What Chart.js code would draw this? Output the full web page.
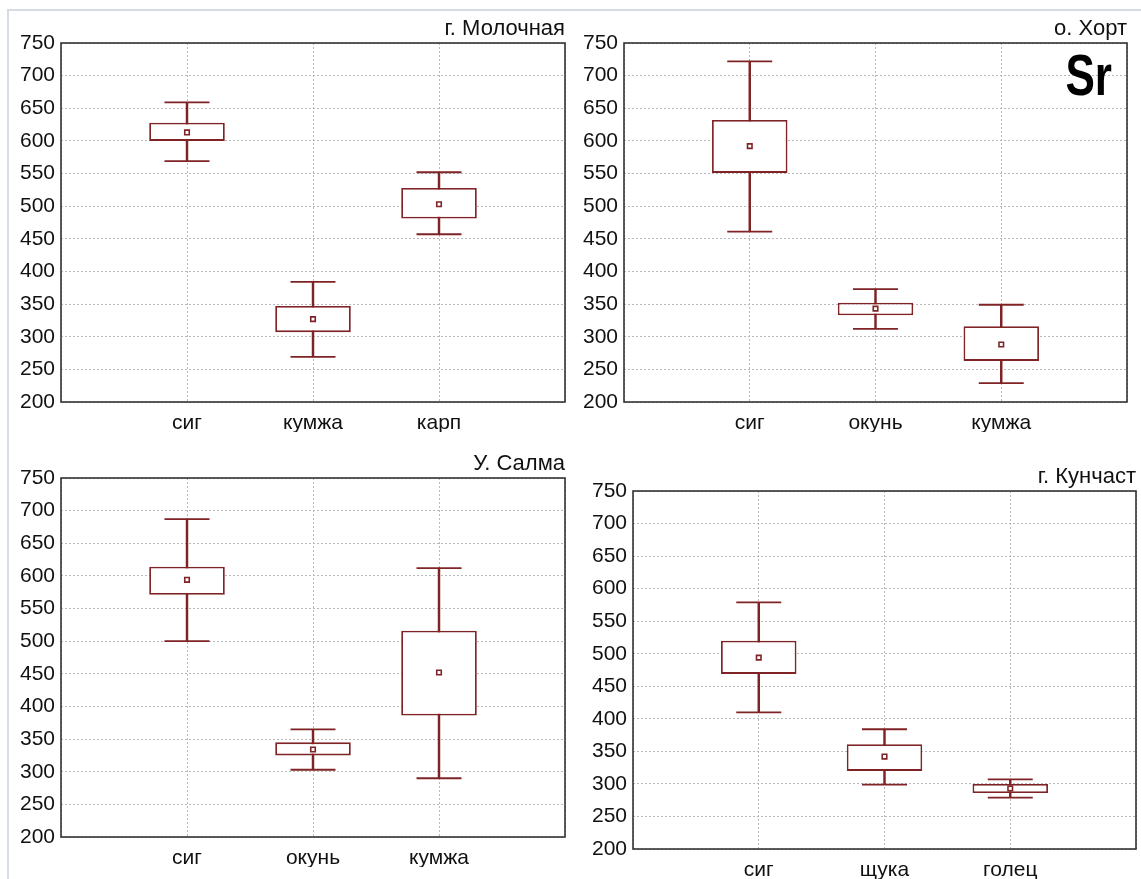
<!DOCTYPE html>
<html>
<head>
<meta charset="utf-8">
<script src="https://cdn.jsdelivr.net/npm/chart.js@4.4.1/dist/chart.umd.min.js"></script>
<style>
    html, body { margin: 0; padding: 0; background: #fff; overflow: hidden; }
    body { width: 1141px; height: 879px; position: relative; }
    .frame-line { position: absolute; left: 7px; top: 9px; right: 0; bottom: 0; border-top: 2px solid #d6dce6; border-left: 2px solid #d6dce6; }
    .panel { position: absolute; }
</style>
</head>
<body>
<div class="frame-line"></div>
<div class="panel" id="wrap1"><canvas id="chart1"></canvas></div>
<div class="panel" id="wrap2"><canvas id="chart2"></canvas></div>
<div class="panel" id="wrap3"><canvas id="chart3"></canvas></div>
<div class="panel" id="wrap4"><canvas id="chart4"></canvas></div>
<script>
// =========================================================
// 1. Datos (mín, Q1, Q3, máx, media)
// =========================================================
const yTicksMin = 200;
const yTicksMax = 750;
const yTicksStep = 50;

// г. Молочная
const molCats = ['сиг', 'кумжа', 'карп'];
const molMin  = [569, 269, 457];
const molQ1   = [600, 307, 481];
const molQ3   = [628, 347, 528];
const molMax  = [659, 384, 552];
const molMean = [613, 327, 503];

// о. Хорт
const horCats = ['сиг', 'окунь', 'кумжа'];
const horMin  = [461, 312, 229];
const horQ1   = [551, 333, 263];
const horQ3   = [632, 352, 316];
const horMax  = [722, 373, 349];
const horMean = [592, 343, 288];

// У. Салма
const salCats = ['сиг', 'окунь', 'кумжа'];
const salMin  = [500, 303, 290];
const salQ1   = [571, 325, 386];
const salQ3   = [614, 345, 516];
const salMax  = [687, 365, 612];
const salMean = [594, 334, 452];

// г. Кунчаст
const kunCats = ['сиг', 'щука', 'голец'];
const kunMin  = [410, 299, 279];
const kunQ1   = [469, 320, 286];
const kunQ3   = [520, 361, 300];
const kunMax  = [579, 384, 307];
const kunMean = [494, 342, 293];

// =========================================================
// 2. Estilos
// =========================================================
const BOX_COLOR = '#7f2326';
const FONT = '"Liberation Sans", Arial, sans-serif';
const Y_AXIS_W = 55;
const X_AXIS_H = 30;
const TITLE_H = 43;

// Marco del área de trazado
const framePlugin = {
    id: 'frame',
    afterDraw(chart) {
        const a = chart.chartArea;
        const ctx = chart.ctx;
        ctx.save();
        ctx.strokeStyle = '#333';
        ctx.lineWidth = 1.6;
        ctx.strokeRect(a.left, a.top, a.right - a.left, a.bottom - a.top);
        ctx.restore();
    }
};

// Etiqueta "Sr" (solo panel о. Хорт)
const elementLabelPlugin = {
    id: 'elementLabel',
    afterDraw(chart, args, opts) {
        if (!opts || !opts.text) return;
        const a = chart.chartArea;
        const ctx = chart.ctx;
        ctx.save();
        ctx.translate(a.right - 15, a.top + 52);
        ctx.scale(0.76, 1);
        ctx.font = '700 58px ' + FONT;
        ctx.fillStyle = '#000';
        ctx.textAlign = 'right';
        ctx.textBaseline = 'alphabetic';
        ctx.fillText(opts.text, 0, 0);
        ctx.restore();
    }
};

// Rellena con huecos a los lados para que las cajas queden en 1/4, 2/4, 3/4
const pad = (arr) => [null, ...arr, null];

// =========================================================
// 3. Construcción de cada panel
// =========================================================
function renderBoxPanel(id, area, title, cats, mins, q1, q3, maxs, means, label) {
    const wrap = document.getElementById('wrap' + id);
    const w = area.R - area.L + Y_AXIS_W + 1;
    const h = area.B - area.T + TITLE_H + X_AXIS_H;
    wrap.style.left = (area.L - Y_AXIS_W) + 'px';
    wrap.style.top = (area.T - TITLE_H) + 'px';
    wrap.style.width = w + 'px';
    wrap.style.height = h + 'px';

    const whiskers = mins.map((v, i) => [v, maxs[i]]);
    const boxes = q1.map((v, i) => [v, q3[i]]);

    const capStyle = {
        type: 'line', showLine: false, pointStyle: 'line', pointRadius: 22.5,
        pointBorderColor: BOX_COLOR, pointBorderWidth: 1.8, pointHoverRadius: 22.5
    };

    new Chart(document.getElementById('chart' + id), {
        type: 'bar',
        data: {
            labels: pad(cats).map(c => c || ''),
            datasets: [
                { label: 'whisker', data: pad(whiskers), backgroundColor: BOX_COLOR, barThickness: 1.8, grouped: false, order: 3 },
                { label: 'box', data: pad(boxes), backgroundColor: '#fff', borderColor: BOX_COLOR, borderWidth: 1.8,
                  borderSkipped: false, grouped: false, categoryPercentage: 1, barPercentage: 0.6, order: 2 },
                Object.assign({ label: 'max', data: pad(maxs), order: 1 }, capStyle),
                Object.assign({ label: 'min', data: pad(mins), order: 1 }, capStyle),
                { type: 'line', label: 'mean', data: pad(means), showLine: false, pointStyle: 'rect', pointRadius: 3.2,
                  pointBackgroundColor: '#fff', pointBorderColor: BOX_COLOR, pointBorderWidth: 1.6, order: 0 }
            ]
        },
        options: {
            responsive: true,
            maintainAspectRatio: false,
            animation: false,
            events: [],
            layout: { autoPadding: false, padding: { left: 0, right: 1, top: 0, bottom: 0 } },
            plugins: {
                legend: { display: false },
                tooltip: { enabled: false },
                title: {
                    display: true, text: title, align: 'end', color: '#111',
                    font: { family: FONT, size: 22, weight: 'normal', lineHeight: 1 },
                    padding: { top: 18, bottom: 3 }
                },
                elementLabel: { text: label }
            },
            scales: {
                x: {
                    offset: false,
                    grid: { offset: false, color: '#b8b8b8', lineWidth: 1, drawTicks: false },
                    border: { display: false, dash: [2, 2] },
                    ticks: { color: '#111', font: { family: FONT, size: 21 }, padding: 9, maxRotation: 0, autoSkip: false },
                    afterFit: (s) => { s.height = X_AXIS_H; s.paddingLeft = 0; s.paddingRight = 0; }
                },
                y: {
                    min: yTicksMin, max: yTicksMax,
                    grid: { color: '#b8b8b8', lineWidth: 1, drawTicks: false },
                    border: { display: false, dash: [2, 2] },
                    ticks: { stepSize: yTicksStep, color: '#111', font: { family: FONT, size: 21 }, padding: 6 },
                    afterFit: (s) => { s.width = Y_AXIS_W; }
                }
            }
        },
        plugins: [framePlugin, elementLabelPlugin]
    });
}

document.addEventListener('DOMContentLoaded', () => {
    renderBoxPanel(1, { L: 61, T: 43, R: 565, B: 402 }, 'г. Молочная', molCats, molMin, molQ1, molQ3, molMax, molMean);
    renderBoxPanel(2, { L: 624, T: 43, R: 1127, B: 402 }, 'о. Хорт', horCats, horMin, horQ1, horQ3, horMax, horMean, 'Sr');
    renderBoxPanel(3, { L: 61, T: 478, R: 565, B: 837 }, 'У. Салма', salCats, salMin, salQ1, salQ3, salMax, salMean);
    renderBoxPanel(4, { L: 633, T: 491, R: 1136, B: 849 }, 'г. Кунчаст', kunCats, kunMin, kunQ1, kunQ3, kunMax, kunMean);
});
</script>
</body>
</html>
